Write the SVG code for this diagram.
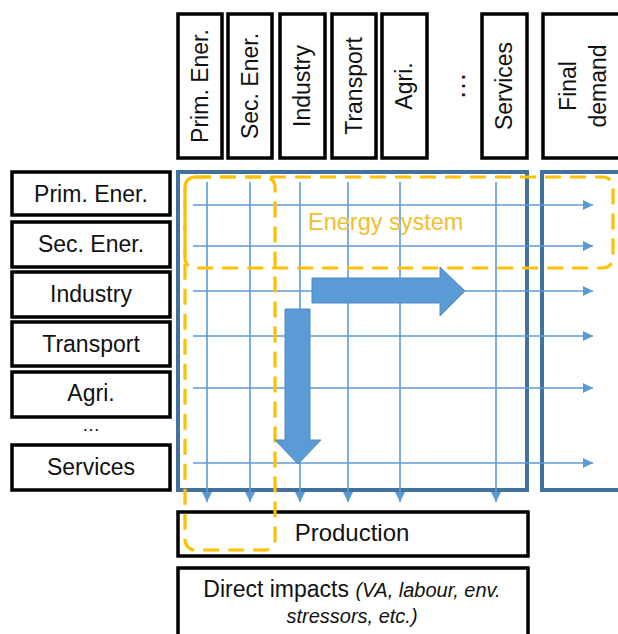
<svg xmlns="http://www.w3.org/2000/svg" width="618" height="634" viewBox="0 0 618 634">
<defs>
<style>
.box{fill:#fff;stroke:#000;stroke-width:3.5}
.lbl{font-family:"Liberation Sans",Arial,sans-serif;font-size:23px;fill:#111;text-anchor:middle}
.frame{fill:none;stroke:#41719c;stroke-width:4}
.thin{stroke:#5b9bd5;stroke-width:1.6;fill:none}
.dash{fill:none;stroke:#ffc000;stroke-width:3.2;stroke-dasharray:16 9}
.big{fill:#5b9bd5;stroke:#4f8ac4;stroke-width:1}
</style>
<marker id="ah" markerUnits="userSpaceOnUse" markerWidth="12" markerHeight="10" refX="10" refY="5" orient="auto">
<path d="M0,0 L10,5 L0,10 Z" fill="#5b9bd5"/>
</marker>
</defs>
<rect width="618" height="634" fill="#fff"/>

<g id="col-prim"><rect class="box" x="178" y="14" width="44" height="144"/><text class="lbl" transform="translate(200,86) rotate(-90)" dy="8">Prim. Ener.</text></g>
<g id="col-sec"><rect class="box" x="228" y="14" width="44" height="144"/><text class="lbl" transform="translate(250,86) rotate(-90)" dy="8">Sec. Ener.</text></g>
<g id="col-industry"><rect class="box" x="280" y="14" width="45" height="144"/><text class="lbl" transform="translate(302,86) rotate(-90)" dy="8">Industry</text></g>
<g id="col-transport"><rect class="box" x="332" y="14" width="44" height="144"/><text class="lbl" transform="translate(354,86) rotate(-90)" dy="8">Transport</text></g>
<g id="col-agri"><rect class="box" x="382" y="14" width="45" height="144"/><text class="lbl" transform="translate(404,86) rotate(-90)" dy="8">Agri.</text></g>
<g id="col-dots"><text class="lbl" transform="translate(457,86) rotate(-90)" dy="8" style="font-size:28px">…</text></g>
<g id="col-services"><rect class="box" x="482" y="14" width="45" height="144"/><text class="lbl" transform="translate(504,86) rotate(-90)" dy="8">Services</text></g>
<g id="col-final"><rect class="box" x="543" y="14" width="80" height="144"/><text class="lbl" transform="translate(568,86) rotate(-90)" dy="8">Final</text><text class="lbl" transform="translate(598,86) rotate(-90)" dy="8">demand</text></g>

<g id="row-prim"><rect class="box" x="12" y="172" width="158" height="43"/><text class="lbl" x="91" y="202">Prim. Ener.</text></g>
<g id="row-sec"><rect class="box" x="12" y="222" width="158" height="45"/><text class="lbl" x="91" y="252">Sec. Ener.</text></g>
<g id="row-industry"><rect class="box" x="12" y="272" width="158" height="45"/><text class="lbl" x="91" y="302">Industry</text></g>
<g id="row-transport"><rect class="box" x="12" y="322" width="158" height="44"/><text class="lbl" x="91" y="352">Transport</text></g>
<g id="row-agri"><rect class="box" x="12" y="372" width="158" height="45"/><text class="lbl" x="91" y="401">Agri.</text></g>
<g id="row-dots"><text class="lbl" x="91" y="431" style="font-size:18px">…</text></g>
<g id="row-services"><rect class="box" x="12" y="445" width="158" height="45"/><text class="lbl" x="91" y="475">Services</text></g>

<g id="matrix"><rect class="frame" x="178" y="172" width="349" height="318"/></g>
<g id="final-frame"><rect class="frame" x="542" y="172" width="90" height="318"/></g>

<g id="connectors">
<line class="thin" x1="193" y1="205" x2="593" y2="205" marker-end="url(#ah)"/>
<line class="thin" x1="193" y1="246" x2="593" y2="246" marker-end="url(#ah)"/>
<line class="thin" x1="193" y1="291" x2="593" y2="291" marker-end="url(#ah)"/>
<line class="thin" x1="193" y1="336" x2="593" y2="336" marker-end="url(#ah)"/>
<line class="thin" x1="193" y1="388" x2="593" y2="388" marker-end="url(#ah)"/>
<line class="thin" x1="193" y1="463" x2="593" y2="463" marker-end="url(#ah)"/>
<line class="thin" x1="207" y1="182" x2="207" y2="502" marker-end="url(#ah)"/>
<line class="thin" x1="250" y1="182" x2="250" y2="502" marker-end="url(#ah)"/>
<line class="thin" x1="300" y1="182" x2="300" y2="502" marker-end="url(#ah)"/>
<line class="thin" x1="348" y1="182" x2="348" y2="502" marker-end="url(#ah)"/>
<line class="thin" x1="400" y1="182" x2="400" y2="502" marker-end="url(#ah)"/>
<line class="thin" x1="496" y1="182" x2="496" y2="502" marker-end="url(#ah)"/>
</g>

<g id="production"><rect class="box" x="178" y="512" width="350" height="44"/><text class="lbl" x="352" y="541" style="font-size:24px">Production</text></g>
<g id="impacts"><rect class="box" x="178" y="568" width="350" height="80"/>
<text class="lbl" x="352" y="597" style="font-size:23px">Direct impacts <tspan style="font-style:italic;font-size:20px">(VA, labour, env.</tspan></text>
<text class="lbl" x="352" y="623" style="font-style:italic;font-size:20px">stressors, etc.)</text></g>

<g id="energy-system">
<rect class="dash" x="185" y="177" width="428" height="91" rx="10"/>
<rect class="dash" x="185" y="177" width="90" height="373" rx="10"/>
<text x="308" y="230" style="font-family:'Liberation Sans',Arial,sans-serif;font-size:23.5px;fill:#f0c030">Energy system</text>
</g>

<g id="big-arrows">
<polygon class="big" points="312,278 440,278 440,267 465,291 440,316 440,303 312,303"/>
<polygon class="big" points="285,309 310,309 310,440 321,440 298,464 275,440 285,440"/>
</g>
</svg>
